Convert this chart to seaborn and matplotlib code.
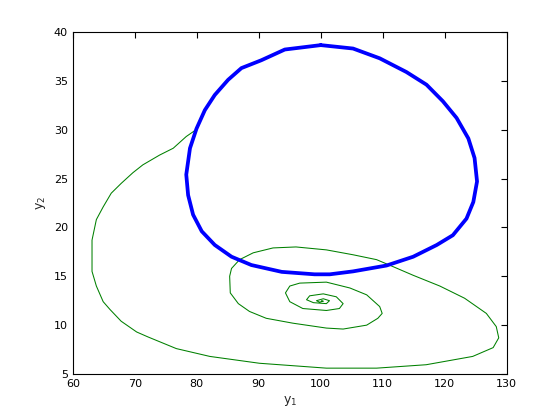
import numpy as np
import matplotlib
matplotlib.use("Agg")
import matplotlib.pyplot as plt
import seaborn as sns

# limit cycle (blue)
cyc_y1 = [100.0, 94.2, 90.4, 87.2, 85.05, 82.9, 81.3, 79.95, 78.9, 78.3, 78.6, 79.4, 80.8,
          82.9, 85.6, 88.8, 93.7, 99.0, 101.45, 105.2, 110.6, 114.9, 118.7, 121.3, 123.5,
          124.6, 125.2, 124.8, 123.8, 121.9, 119.7, 117.05, 113.8, 109.5, 105.2, 100.0]
cyc_y2 = [38.65, 38.2, 37.1, 36.3, 35.1, 33.55, 32.0, 30.1, 28.1, 25.4, 23.3, 21.3, 19.6,
          18.2, 17.0, 16.15, 15.45, 15.2, 15.2, 15.5, 16.1, 17.0, 18.2, 19.2, 20.9,
          22.6, 24.7, 27.1, 29.1, 31.2, 32.9, 34.6, 35.9, 37.3, 38.3, 38.65]

# spiral trajectory (green) towards the steady state
sp_y1 = [79.9, 78.3, 76.2, 74.0, 71.3, 69.7, 67.8, 66.2, 64.9, 63.8, 63.1, 63.1, 63.8,
         64.9, 66.0, 67.8, 70.3, 72.1, 76.7, 82.1, 90.1, 100.9, 109.0, 117.0, 124.5,
         127.8, 128.7, 128.3, 126.7, 123.2, 119.2, 114.9, 111.6, 109.0, 105.2, 100.9,
         96.0, 92.3, 89.1, 86.9, 85.6, 85.3, 85.4, 86.7, 88.5, 91.2, 95.5, 100.9, 103.6,
         107.4, 109.2, 109.9, 109.5, 107.4, 104.7, 100.9, 96.6, 95.0, 94.3, 95.0, 97.1,
         100.9, 103.0, 103.6, 102.5, 100.4, 98.2, 97.7, 98.8, 100.9, 101.4, 100.4, 99.3,
         99.8, 100.4, 100.1]
sp_y2 = [30.0, 29.3, 28.1, 27.4, 26.4, 25.6, 24.5, 23.5, 22.1, 20.8, 18.7, 15.5, 14.0,
         12.4, 11.6, 10.4, 9.3, 8.8, 7.6, 6.8, 6.1, 5.6, 5.6, 5.95, 6.8,
         7.7, 8.7, 9.85, 11.2, 12.75, 14.0, 15.1, 16.0, 16.7, 17.2, 17.7,
         18.0, 17.9, 17.4, 16.7, 15.8, 15.0, 13.3, 12.2, 11.4, 10.7, 10.2, 9.7, 9.6,
         10.0, 10.7, 11.2, 11.9, 13.1, 13.8, 14.4, 14.3, 14.0, 13.3, 12.4, 11.7,
         11.5, 11.7, 12.2, 12.9, 13.2, 13.0, 12.6, 12.3, 12.2, 12.5, 12.7, 12.5,
         12.35, 12.45, 12.5]

sns.set_style("white")
plt.rcParams['font.family'] = ['DejaVu Sans']

fig = plt.figure(figsize=(5.6, 4.2), dpi=100)
ax = fig.add_axes([0.130, 0.1095, 0.775, 0.8145])

sns.lineplot(x=sp_y1, y=sp_y2, sort=False, estimator=None, color='#008000', lw=0.75, ax=ax)
sns.lineplot(x=cyc_y1, y=cyc_y2, sort=False, estimator=None, color='#0000ff', lw=2.7, ax=ax)

ax.set_xlim(60, 130)
ax.set_ylim(5, 40)
ax.set_xticks(np.arange(60, 131, 10))
ax.set_yticks(np.arange(5, 41, 5))
ax.tick_params(direction='in', top=True, right=True, length=4, width=0.8,
               labelsize=8, colors='black')
for s in ax.spines.values():
    s.set_color('black')
    s.set_linewidth(0.8)
ax.set_xlabel('$\\mathregular{y_1}$', fontsize=9)
ax.set_ylabel('$\\mathregular{y_2}$', fontsize=9)

fig.savefig('out.png', dpi=100)
